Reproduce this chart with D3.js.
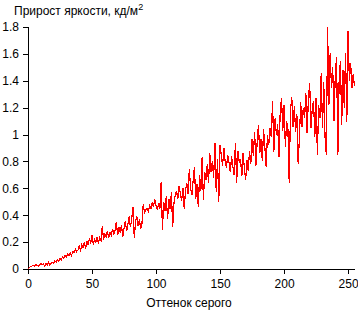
<!DOCTYPE html>
<html>
<head>
<meta charset="utf-8">
<script src="https://cdn.jsdelivr.net/npm/d3@7"></script>
<style>
  body { margin: 0; background: #fff; }
  svg text { font-family: "Liberation Sans", Arial, sans-serif; font-size: 12px; fill: #000; }
</style>
</head>
<body>
<script>
// values, one per grey level 0..255
const growth = [
  0.00, 0.01, 0.02, 0.02, 0.03, 0.02, 0.03, 0.03, 0.02, 0.03,
  0.04, 0.03, 0.04, 0.02, 0.04, 0.03, 0.05, 0.03, 0.04, 0.05,
  0.04, 0.06, 0.05, 0.07, 0.06, 0.08, 0.07, 0.09, 0.08, 0.10,
  0.09, 0.11, 0.10, 0.12, 0.10, 0.13, 0.12, 0.15, 0.13, 0.14,
  0.17, 0.14, 0.18, 0.16, 0.20, 0.15, 0.21, 0.18, 0.23, 0.19,
  0.25, 0.18, 0.22, 0.20, 0.24, 0.19, 0.23, 0.21, 0.32, 0.22,
  0.26, 0.24, 0.28, 0.23, 0.27, 0.25, 0.30, 0.26, 0.29, 0.35,
  0.25, 0.31, 0.27, 0.33, 0.24, 0.30, 0.36, 0.28, 0.33, 0.39,
  0.31, 0.37, 0.46, 0.23, 0.35, 0.39, 0.32, 0.37, 0.30, 0.34,
  0.48, 0.42, 0.44, 0.45, 0.43, 0.47, 0.45, 0.49, 0.46, 0.52,
  0.47, 0.44, 0.49, 0.45, 0.65, 0.29, 0.50, 0.43, 0.54, 0.37,
  0.52, 0.45, 0.57, 0.31, 0.49, 0.55, 0.58, 0.52, 0.62, 0.56,
  0.51, 0.60, 0.45, 0.58, 0.64, 0.56, 0.74, 0.60, 0.55, 0.66,
  0.76, 0.52, 0.63, 0.46, 0.70, 0.58, 0.83, 0.51, 0.72, 0.66,
  0.78, 0.64, 0.86, 0.72, 0.80, 0.68, 0.94, 0.57, 0.82, 0.50,
  0.92, 0.84, 0.77, 0.90, 0.80, 0.75, 0.85, 0.79, 0.72, 0.84,
  0.76, 0.70, 0.94, 0.64, 0.88, 0.79, 0.82, 0.69, 0.86, 0.75,
  0.66, 0.81, 0.73, 0.88, 0.78, 0.97, 0.84, 1.02, 0.77, 0.95,
  1.07, 0.86, 0.97, 0.80, 1.04, 0.90, 0.76, 1.00, 0.92, 1.05,
  0.98, 1.25, 0.87, 1.12, 1.00, 1.08, 0.83, 1.18, 1.27, 1.03,
  1.22, 0.91, 1.10, 1.04, 0.64, 1.18, 1.28, 1.06, 1.21, 1.02,
  1.15, 0.78, 0.98, 1.24, 1.06, 1.20, 1.12, 1.31, 1.01, 1.27,
  1.38, 1.05, 1.19, 1.25, 0.98, 1.27, 0.85, 1.22, 1.12, 1.46,
  1.05, 1.39, 0.98, 0.85, 1.80, 1.22, 1.61, 1.35, 1.50, 1.10,
  1.45, 1.58, 0.85, 1.40, 1.55, 1.07, 1.48, 1.20, 1.61, 1.09,
  1.77, 1.40, 1.53, 1.35, 1.45, 1.36
];
const xTicks = [0, 50, 100, 150, 200, 250];
const yTicks = [0, 0.2, 0.4, 0.6, 0.8, 1, 1.2, 1.4, 1.6, 1.8];

const W = 358, H = 312;
const margin = {top: 27, right: 4, bottom: 43, left: 28};

var svg = d3.select("body").append("svg")
    .attr("width", W)
    .attr("height", H);

var x = d3.scaleLinear().domain([0, 255]).range([margin.left, 354.5]);
var y = d3.scaleLinear().domain([0, 1.8]).range([H - margin.bottom, margin.top]);

var yAxis = d3.axisLeft(y).tickValues(yTicks).tickSize(5).tickPadding(4)
    .tickFormat(d3.format("~g"));
var xAxis = d3.axisBottom(x).tickValues(xTicks).tickSize(5).tickPadding(5)
    .tickFormat(d3.format("d"));

svg.append("g")
    .attr("transform", "translate(" + margin.left + ",0)")
    .call(yAxis)
    .call(g => g.select(".domain").attr("d", "M0.5," + y(0) + "V" + (y(1.8) - 0.5)));

svg.append("g")
    .attr("transform", "translate(0," + y(0) + ")")
    .call(xAxis)
    .call(g => g.select(".domain").attr("d", "M" + margin.left + ",0.5H" + x(255)));

svg.selectAll(".domain, .tick line")
    .attr("stroke", "#000")
    .attr("shape-rendering", "crispEdges");
svg.selectAll(".tick text")
    .attr("font-family", null)
    .attr("font-size", null);

var line = d3.line()
    .x((d, i) => x(i))
    .y(d => y(d));

svg.append("path")
    .datum(growth)
    .attr("fill", "none")
    .attr("stroke", "#ff0000")
    .attr("stroke-width", 1.2)
    .attr("shape-rendering", "crispEdges")
    .attr("d", line);

// title and axis label
var title = svg.append("text")
    .attr("x", 14)
    .attr("y", 15);
title.append("tspan").text("Прирост яркости, кд/м");
title.append("tspan").attr("dy", -5).attr("font-size", "9px").text("2");

svg.append("text")
    .attr("x", 189)
    .attr("y", 307)
    .attr("text-anchor", "middle")
    .text("Оттенок серого");
</script>
</body>
</html>
